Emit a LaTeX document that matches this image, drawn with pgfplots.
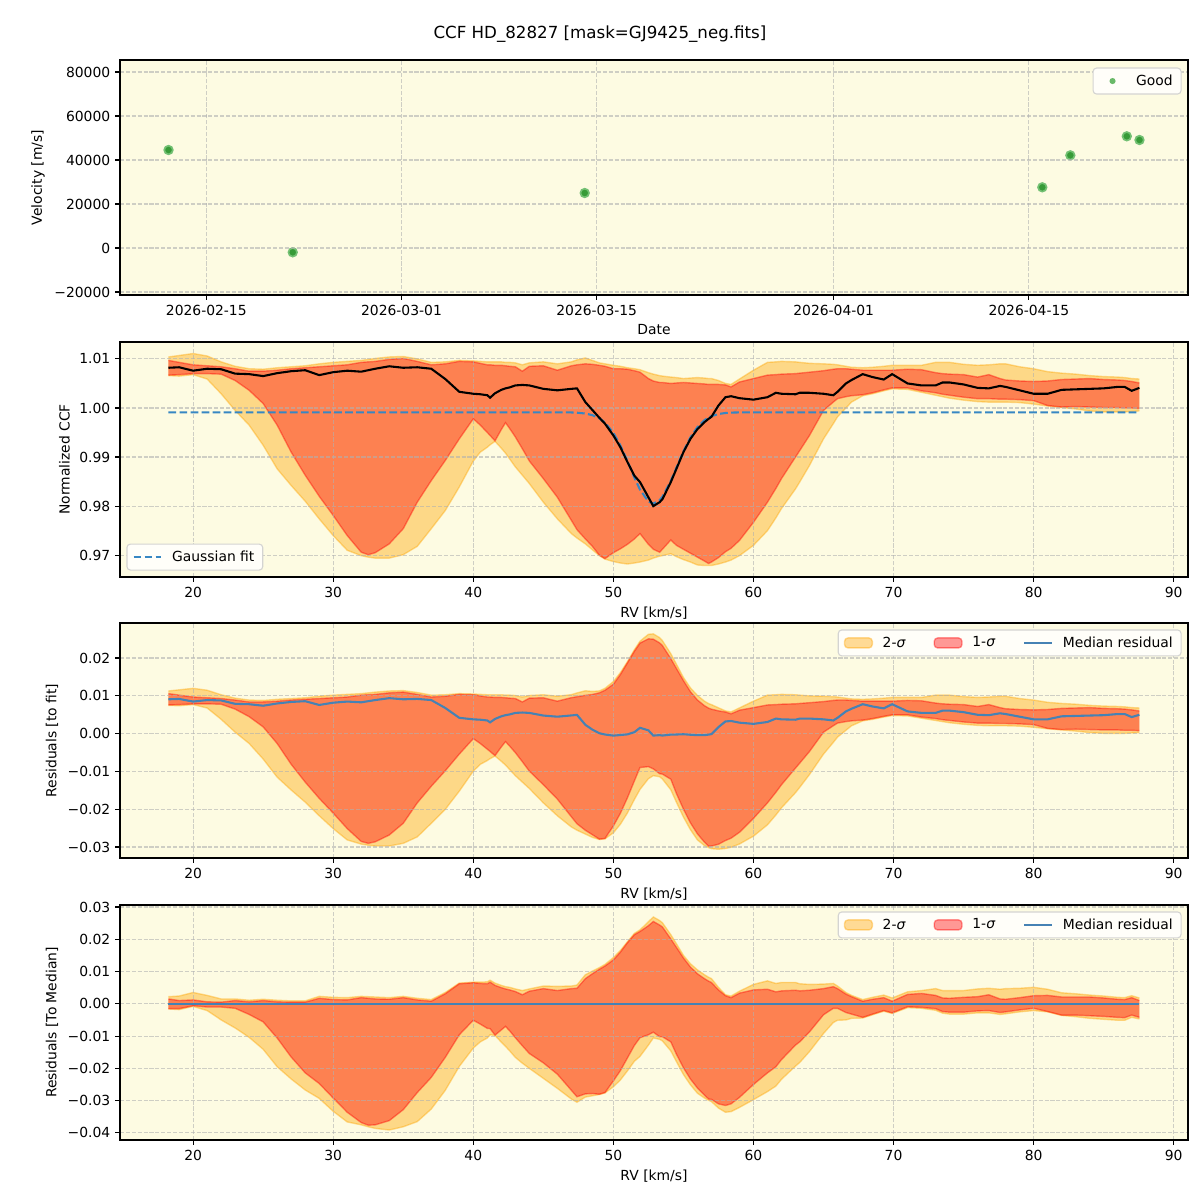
\documentclass[border=0pt]{standalone}
\usepackage{fontspec}
\setmainfont{DejaVu Sans}
\usepackage{pgfplots}
\usepackage{pgfplotstable}
\pgfplotsset{compat=1.18}
\usepgfplotslibrary{fillbetween}

\definecolor{bgc}{RGB}{253,251,226}
\definecolor{gridc}{RGB}{176,176,176}
\definecolor{legedge}{RGB}{212,212,210}
\definecolor{legfill}{RGB}{255,254,249}
\definecolor{c2}{RGB}{255,165,0}
\definecolor{c1}{RGB}{255,0,0}
\definecolor{fitblue}{RGB}{55,135,195}
\definecolor{medblue}{RGB}{70,130,180}
\definecolor{ptfill}{RGB}{55,155,55}
\definecolor{ptedge}{RGB}{115,192,115}
\definecolor{goodleg}{RGB}{105,185,105}

\newcommand{\tenpt}{\fontsize{10}{12}\selectfont}

% CCF bands: x = RV [km/s]; u2/l2 = 2-sigma band, u1/l1 = 1-sigma band,
% med = median CCF, fit = Gaussian fit
\pgfplotstableread{
x u2 u1 med l1 l2 fit
18.24 1.0104 1.0097 1.0082 1.0067 1.0066 0.99912
19 1.0107 1.0093 1.0083 1.0068 1.0065 0.99912
20 1.0111 1.0088 1.0076 1.0070 1.0068 0.99912
21 1.0106 1.0086 1.0080 1.0070 1.0059 0.99912
22 1.0094 1.0084 1.0079 1.0069 1.0029 0.99912
23 1.0085 1.0080 1.0070 1.0056 0.9995 0.99912
24 1.0080 1.0075 1.0069 1.0036 0.9965 0.99912
25 1.0079 1.0075 1.0065 1.0009 0.9924 0.99912
26 1.0082 1.0077 1.0071 0.9965 0.9876 0.99912
27 1.0084 1.0080 1.0075 0.9910 0.9842 0.99912
28 1.0086 1.0082 1.0077 0.9863 0.9810 0.99912
29 1.0090 1.0084 1.0067 0.9820 0.9774 0.99912
30 1.0093 1.0086 1.0073 0.9781 0.9740 0.99912
31 1.0095 1.0088 1.0076 0.9740 0.9710 0.99912
32 1.0097 1.0093 1.0074 0.9706 0.9699 0.99912
32.5 1.0099 1.0094 1.0077 0.9701 0.9696 0.99912
33 1.0101 1.0095 1.0080 0.9705 0.9694 0.99912
34 1.0104 1.0099 1.0085 0.9723 0.9694 0.99912
35 1.0105 1.0101 1.0082 0.9754 0.9701 0.99912
36 1.0100 1.0095 1.0083 0.9808 0.9718 0.99912
37 1.0093 1.0088 1.0080 0.9852 0.9754 0.99912
38 1.0094 1.0090 1.0059 0.9893 0.9791 0.99912
39 1.0097 1.0095 1.0033 0.9937 0.9839 0.99912
40 1.0096 1.0094 1.0029 0.9978 0.9892 0.99912
40.5 1.0095 1.0091 1.0028 0.9965 0.9910 0.99912
41 1.0094 1.0088 1.0026 0.9950 0.9920 0.99912
41.2 1.0094 1.0088 1.0021 0.9944 0.9925 0.99912
41.55 1.0094 1.0087 1.0030 0.9933 0.9932 0.99912
42 1.0094 1.0087 1.0037 0.9956 0.9918 0.99912
42.3 1.0093 1.0086 1.0040 0.9970 0.9908 0.99912
42.6 1.0093 1.0085 1.0042 0.9958 0.9896 0.99912
43 1.0092 1.0084 1.0046 0.9941 0.9880 0.99912
43.5 1.0088 1.0075 1.0047 0.9917 0.9863 0.99912
44 1.0092 1.0085 1.0046 0.9892 0.9846 0.99912
45 1.0094 1.0086 1.0039 0.9856 0.9808 0.99912
46 1.0090 1.0077 1.0036 0.9818 0.9774 0.99912
47 1.0094 1.0086 1.0039 0.9771 0.9744 0.99909
47.4 1.0098 1.0088 1.0040 0.9752 0.9735 0.99904
48 1.0102 1.0090 1.0012 0.9733 0.9723 0.99887
48.5 1.0097 1.0089 0.9996 0.9718 0.9711 0.99854
49 1.0092 1.0087 0.9980 0.9700 0.9699 0.99790
49.4 1.0090 1.0085 0.9968 0.9693 0.9692 0.99703
50 1.0087 1.0080 0.9944 0.9705 0.9687 0.99493
50.5 1.0085 1.0080 0.9920 0.9713 0.9684 0.99237
51 1.0082 1.0079 0.9890 0.9722 0.9682 0.98920
51.5 1.0080 1.0076 0.9862 0.9733 0.9684 0.98581
51.9 1.0078 1.0073 0.9849 0.9744 0.9686 0.98336
52.5 1.0072 1.0060 0.9818 0.9722 0.9690 0.98093
52.85 1.0069 1.0055 0.9800 0.9712 0.9694 0.98052
53.3 1.0066 1.0052 0.9808 0.9706 0.9698 0.98120
53.5 1.0065 1.0052 0.9814 0.9712 0.9699 0.98191
54.1 1.0063 1.0050 0.9849 0.9731 0.9703 0.98516
54.5 1.0062 1.0051 0.9876 0.9720 0.9697 0.98784
55 1.0060 1.0052 0.9910 0.9712 0.9691 0.99116
55.5 1.0061 1.0051 0.9937 0.9704 0.9686 0.99400
56 1.0062 1.0050 0.9957 0.9696 0.9680 0.99611
56.5 1.0061 1.0049 0.9971 0.9688 0.9679 0.99751
56.8 1.0060 1.0048 0.9978 0.9683 0.9679 0.99806
57 1.0060 1.0048 0.9982 0.9686 0.9679 0.99833
57.5 1.0056 1.0048 1.0005 0.9695 0.9682 0.99877
58 1.0050 1.0047 1.0022 0.9707 0.9686 0.99898
58.4 1.0048 1.0043 1.0024 0.9714 0.9690 0.99906
59 1.0059 1.0053 1.0020 0.9730 0.9699 0.99910
60 1.0077 1.0060 1.0017 0.9767 0.9720 0.99912
61 1.0093 1.0067 1.0022 0.9808 0.9750 0.99912
61.6 1.0094 1.0068 1.0031 0.9836 0.9776 0.99912
62 1.0095 1.0069 1.0029 0.9856 0.9795 0.99912
63 1.0094 1.0070 1.0028 0.9900 0.9835 0.99912
63.3 1.0093 1.0071 1.0031 0.9913 0.9849 0.99912
64 1.0091 1.0073 1.0031 0.9944 0.9883 0.99912
65 1.0090 1.0076 1.0029 0.9995 0.9937 0.99912
65.7 1.0089 1.0079 1.0026 1.0012 0.9968 0.99912
66 1.0088 1.0080 1.0033 1.0019 0.9982 0.99912
66.6 1.0085 1.0080 1.0050 1.0023 1.0000 0.99912
67 1.0083 1.0079 1.0057 1.0025 1.0012 0.99912
67.8 1.0082 1.0077 1.0069 1.0027 1.0025 0.99912
68.5 1.0083 1.0077 1.0063 1.0031 1.0029 0.99912
69.3 1.0085 1.0077 1.0058 1.0037 1.0035 0.99912
69.9 1.0087 1.0077 1.0069 1.0041 1.0039 0.99912
71 1.0087 1.0079 1.0050 1.0041 1.0038 0.99912
72 1.0087 1.0078 1.0046 1.0035 1.0032 0.99912
73 1.0093 1.0072 1.0046 1.0031 1.0026 0.99912
73.5 1.0093 1.0070 1.0052 1.0028 1.0023 0.99912
74 1.0093 1.0069 1.0052 1.0026 1.0020 0.99912
75 1.0089 1.0068 1.0048 1.0022 1.0016 0.99912
76 1.0087 1.0063 1.0041 1.0019 1.0013 0.99912
76.8 1.0088 1.0068 1.0040 1.0019 1.0012 0.99912
77.6 1.0090 1.0060 1.0045 1.0018 1.0012 0.99912
78 1.0090 1.0057 1.0043 1.0018 1.0012 0.99912
79 1.0084 1.0055 1.0036 1.0017 1.0011 0.99912
80 1.0080 1.0054 1.0029 1.0015 1.0008 0.99912
81 1.0074 1.0055 1.0029 1.0005 1.0004 0.99912
82 1.0071 1.0058 1.0037 1.0002 1.0001 0.99912
83 1.0069 1.0059 1.0038 1.0003 0.9998 0.99912
84 1.0066 1.0060 1.0039 1.0002 0.9994 0.99912
85 1.0064 1.0058 1.0040 1.0001 0.9992 0.99912
86 1.0063 1.0057 1.0043 1.0001 0.9992 0.99912
86.5 1.0062 1.0056 1.0043 1.0000 0.9992 0.99912
87 1.0060 1.0054 1.0035 1.0000 0.9993 0.99912
87.55 1.0059 1.0051 1.0041 0.9999 0.9994 0.99912
}\ccf

\pgfplotsset{
  mpl line legend/.style={legend image code/.code={\draw[##1] (0pt,0pt) -- (20pt,0pt);}},
  mpl patch legend/.style={legend image code/.code={\draw[##1] (0pt,-3.6pt) rectangle (20pt,3.6pt);}},
  panel/.style={
    anchor=north west,
    scale only axis,
    width=768.96pt, height=169.2pt,
    set layers=axis on top,
    axis background/.style={fill=bgc},
    grid=major,
    major grid style={draw=gridc, draw opacity=0.6, line width=0.8pt, dash pattern=on 2.96pt off 1.28pt},
    axis line style={line width=0.8pt},
    tick align=outside,
    tick pos=left,
    major tick length=3.5pt,
    every tick/.style={black, line width=0.8pt},
    ticklabel style={font=\tenpt},
    label style={font=\tenpt},
    scaled ticks=false,
    legend cell align=left,
    legend style={draw=legedge, line width=0.8pt, rounded corners=2.5pt, fill=legfill,
      font=\tenpt, outer sep=0pt, inner xsep=4pt, inner ysep=2.8pt,
      /tikz/every odd column/.append style={column sep=5pt},
      /tikz/every even column/.append style={column sep=18pt}},
  },
  band2/.style={fill=c2, fill opacity=0.4, draw=none, forget plot},
  band1/.style={fill=c1, fill opacity=0.4, draw=none, forget plot},
  edge2/.style={c2, draw opacity=0.4, line width=1pt, forget plot, on layer=pre main},
  edge1/.style={c1, draw opacity=0.4, line width=1pt, forget plot, on layer=pre main},
  rvaxis/.style={
    xmin=14.78, xmax=91.02,
    xtick={20,30,40,50,60,70,80,90},
    xticklabels={20,30,40,50,60,70,80,90},
    xlabel={RV [km/s]},
  },
}

\begin{document}
\begin{tikzpicture}

\node[anchor=base, font=\fontsize{12}{14}\selectfont] at (432pt,-27.4pt)
  {CCF HD\_82827 [mask=GJ9425\_neg.fits]};

% ---- radial velocities over time (x = days after 2026-02-15)
\begin{axis}[panel, at={(86.4pt,-43.2pt)},
  xmin=-6.19, xmax=70.41, ymin=-21364, ymax=85455,
  xtick={0,14,28,45,59},
  xticklabels={2026-02-15,2026-03-01,2026-03-15,2026-04-01,2026-04-15},
  ytick={-20000,0,20000,40000,60000,80000},
  yticklabels={−20000,0,20000,40000,60000,80000},
  xlabel={Date}, ylabel={Velocity [m/s]},
  legend style={at={(1,1)}, anchor=north east, xshift=-5pt, yshift=-5.8pt},
]
\addplot[only marks, mark=*, mark size=3.1pt,
  mark options={fill=ptfill, draw=ptedge, line width=1.2pt}, forget plot]
  coordinates {(-2.71,44545) (6.20,-1955) (27.14,25000) (59.96,27590)
               (61.97,42136) (66.02,50773) (66.93,49090)};
\addlegendimage{legend image code/.code={\path[draw=none, fill=none] (0pt,-3pt) rectangle (20pt,3pt);
  \fill[goodleg, draw=none] (10pt,0pt) circle (2.2pt);}}
\addlegendentry{Good}
\end{axis}

% ---- normalized CCF with bands and Gaussian fit
\begin{axis}[panel, rvaxis, at={(86.4pt,-246.24pt)},
  ymin=0.96555, ymax=1.01345,
  ytick={0.97,0.98,0.99,1.00,1.01},
  yticklabels={0.97,0.98,0.99,1.00,1.01},
  ylabel={Normalized CCF},
  legend style={at={(0,0)}, anchor=south west, xshift=5pt, yshift=5pt},
]
\addplot[name path=U2, draw=none, forget plot] table[x=x,y=u2]{\ccf};
\addplot[name path=L2, draw=none, forget plot] table[x=x,y=l2]{\ccf};
\addplot[band2] fill between[of=U2 and L2];
\addplot[edge2] table[x=x,y=u2]{\ccf};
\addplot[edge2] table[x=x,y=l2]{\ccf};
\addplot[name path=U1, draw=none, forget plot] table[x=x,y=u1]{\ccf};
\addplot[name path=L1, draw=none, forget plot] table[x=x,y=l1]{\ccf};
\addplot[band1] fill between[of=U1 and L1];
\addplot[edge1] table[x=x,y=u1]{\ccf};
\addplot[edge1] table[x=x,y=l1]{\ccf};
\addplot[on layer=axis foreground, fitblue, line width=1.5pt,
  dash pattern=on 5.55pt off 2.4pt, forget plot] table[x=x,y=fit]{\ccf};
\addplot[on layer=axis foreground, black, line width=1.5pt, forget plot]
  table[x=x,y=med]{\ccf};
\addlegendimage{mpl line legend, fitblue, line width=1.5pt, dash pattern=on 5.55pt off 2.4pt}
\addlegendentry{Gaussian fit}
\end{axis}

% ---- residuals with respect to the Gaussian fit
\begin{axis}[panel, rvaxis, at={(86.4pt,-448.56pt)},
  ymin=-0.0329, ymax=0.02926,
  ytick={-0.03,-0.02,-0.01,0,0.01,0.02},
  yticklabels={−0.03,−0.02,−0.01,0.00,0.01,0.02},
  ylabel={Residuals [to fit]},
  legend columns=3,
  legend style={at={(1,1)}, anchor=north east, xshift=-5pt, yshift=-5pt},
]
\addplot[name path=U2, draw=none, forget plot] table[x=x,y expr=\thisrow{u2}-\thisrow{fit}]{\ccf};
\addplot[name path=L2, draw=none, forget plot] table[x=x,y expr=\thisrow{l2}-\thisrow{fit}]{\ccf};
\addplot[band2] fill between[of=U2 and L2];
\addplot[edge2] table[x=x,y expr=\thisrow{u2}-\thisrow{fit}]{\ccf};
\addplot[edge2] table[x=x,y expr=\thisrow{l2}-\thisrow{fit}]{\ccf};
\addplot[name path=U1, draw=none, forget plot] table[x=x,y expr=\thisrow{u1}-\thisrow{fit}]{\ccf};
\addplot[name path=L1, draw=none, forget plot] table[x=x,y expr=\thisrow{l1}-\thisrow{fit}]{\ccf};
\addplot[band1] fill between[of=U1 and L1];
\addplot[edge1] table[x=x,y expr=\thisrow{u1}-\thisrow{fit}]{\ccf};
\addplot[edge1] table[x=x,y expr=\thisrow{l1}-\thisrow{fit}]{\ccf};
\addplot[on layer=axis foreground, medblue, line width=1.5pt, forget plot]
  table[x=x,y expr=\thisrow{med}-\thisrow{fit}]{\ccf};
\addlegendimage{mpl patch legend, fill=c2, fill opacity=0.4, draw=c2, draw opacity=0.4, line width=1pt}
\addlegendentry{2-\textit{σ}}
\addlegendimage{mpl patch legend, fill=c1, fill opacity=0.4, draw=c1, draw opacity=0.4, line width=1pt}
\addlegendentry{1-\textit{σ}}
\addlegendimage{mpl line legend, medblue, line width=1.5pt}
\addlegendentry{Median residual}
\end{axis}

% ---- residuals with respect to the median CCF
\begin{axis}[panel, rvaxis, at={(86.4pt,-651.6pt)},
  ymin=-0.0422, ymax=0.0306,
  ytick={-0.04,-0.03,-0.02,-0.01,0,0.01,0.02,0.03},
  yticklabels={−0.04,−0.03,−0.02,−0.01,0.00,0.01,0.02,0.03},
  ylabel={Residuals [To Median]},
  legend columns=3,
  legend style={at={(1,1)}, anchor=north east, xshift=-5pt, yshift=-5pt},
]
\addplot[name path=U2, draw=none, forget plot] table[x=x,y expr=\thisrow{u2}-\thisrow{med}]{\ccf};
\addplot[name path=L2, draw=none, forget plot] table[x=x,y expr=\thisrow{l2}-\thisrow{med}]{\ccf};
\addplot[band2] fill between[of=U2 and L2];
\addplot[edge2] table[x=x,y expr=\thisrow{u2}-\thisrow{med}]{\ccf};
\addplot[edge2] table[x=x,y expr=\thisrow{l2}-\thisrow{med}]{\ccf};
\addplot[name path=U1, draw=none, forget plot] table[x=x,y expr=\thisrow{u1}-\thisrow{med}]{\ccf};
\addplot[name path=L1, draw=none, forget plot] table[x=x,y expr=\thisrow{l1}-\thisrow{med}]{\ccf};
\addplot[band1] fill between[of=U1 and L1];
\addplot[edge1] table[x=x,y expr=\thisrow{u1}-\thisrow{med}]{\ccf};
\addplot[edge1] table[x=x,y expr=\thisrow{l1}-\thisrow{med}]{\ccf};
\addplot[on layer=axis foreground, medblue, line width=1.5pt, forget plot]
  coordinates {(18.24,0) (87.55,0)};
\addlegendimage{mpl patch legend, fill=c2, fill opacity=0.4, draw=c2, draw opacity=0.4, line width=1pt}
\addlegendentry{2-\textit{σ}}
\addlegendimage{mpl patch legend, fill=c1, fill opacity=0.4, draw=c1, draw opacity=0.4, line width=1pt}
\addlegendentry{1-\textit{σ}}
\addlegendimage{mpl line legend, medblue, line width=1.5pt}
\addlegendentry{Median residual}
\end{axis}

\pgfresetboundingbox
\path[use as bounding box] (0pt,0pt) rectangle (864pt,-864pt);
\end{tikzpicture}
\end{document}
